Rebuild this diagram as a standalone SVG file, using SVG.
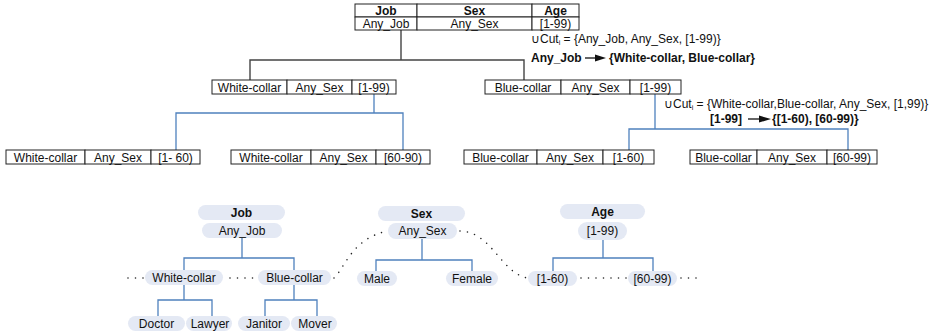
<svg xmlns="http://www.w3.org/2000/svg" width="935" height="334" viewBox="0 0 935 334">
<style>
text{font-family:"Liberation Sans",Arial,sans-serif;font-size:12px;fill:#111}
.b{font-weight:bold}
.m{text-anchor:middle}
.cell{fill:#fff;stroke:#222;stroke-width:1}
.blk{stroke:#444;stroke-width:1.4;fill:none}
.blu{stroke:#4f81bd;stroke-width:1.3;fill:none}
.dot{stroke:#222;stroke-width:1.6;stroke-linecap:round;stroke-dasharray:0 7.5;fill:none}
.pill{fill:#e4e9f4}
.arr{stroke:#111;stroke-width:1.3;fill:none}
.ah{fill:#111}
</style>
<rect width="935" height="334" fill="#fff"/>

<g id="connectors">
  <path class="blk" d="M401,30 V60 M250,80 V60 H524 V80"/>
  <path class="blu" d="M374,94 V113 M176,150 V113 H403 V150"/>
  <path class="blu" d="M655,94 V129 M629,150 V129 H848 V150"/>
  <path class="blu" d="M242,238 V258 M184,270 V258 H294 V270"/>
  <path class="blu" d="M184,285 V300 M158,316 V300 H212 V316"/>
  <path class="blu" d="M294,285 V300 M265,316 V300 H317 V316"/>
  <path class="blu" d="M422,239 V260 M376,271 V260 H472 V271"/>
  <path class="blu" d="M603,240 V258 M553,271 V258 H653 V271"/>
  <path class="dot" d="M128,278 H145"/>
  <path class="dot" d="M230,278 H256"/>
  <path class="dot" d="M334,278 C345,268 352,238 388,231"/>
  <path class="dot" d="M460,231 C492,232 500,272 527,278"/>
  <path class="dot" d="M581,278 H627"/>
  <path class="dot" d="M681,278 H698"/>
</g>

<g id="root">
  <rect class="cell" x="355" y="4" width="62" height="13"/>
  <rect class="cell" x="417" y="4" width="115" height="13"/>
  <rect class="cell" x="532" y="4" width="47" height="13"/>
  <rect class="cell" x="355" y="17" width="62" height="13"/>
  <rect class="cell" x="417" y="17" width="115" height="13"/>
  <rect class="cell" x="532" y="17" width="47" height="13"/>
  <text class="b m" x="386" y="15">Job</text>
  <text class="b m" x="474.5" y="15">Sex</text>
  <text class="b m" x="555.5" y="15">Age</text>
  <text class="m" x="386" y="28">Any_Job</text>
  <text class="m" x="474.5" y="28">Any_Sex</text>
  <text class="m" x="555.5" y="28">[1-99)</text>
</g>

<g id="note1">
  <text x="531" y="43">∪Cut<tspan font-size="7" dy="1.5">i</tspan><tspan dy="-1.5"> = {Any_Job, Any_Sex, [1-99)}</tspan></text>
  <text class="b" x="531" y="62">Any_Job</text>
  <path class="arr" d="M585,58 H597"/>
  <polygon class="ah" points="595,54.5 606,58 595,61.5"/>
  <text class="b" x="609" y="62">{White-collar, Blue-collar}</text>
</g>

<g id="wc">
  <rect class="cell" x="212" y="80" width="75" height="14"/>
  <rect class="cell" x="287" y="80" width="65" height="14"/>
  <rect class="cell" x="352" y="80" width="44" height="14"/>
  <text class="m" x="249.5" y="91.5">White-collar</text>
  <text class="m" x="319.5" y="91.5">Any_Sex</text>
  <text class="m" x="374" y="91.5">[1-99)</text>
</g>

<g id="bc">
  <rect class="cell" x="485" y="80" width="76" height="14"/>
  <rect class="cell" x="561" y="80" width="69" height="14"/>
  <rect class="cell" x="630" y="80" width="51" height="14"/>
  <text class="m" x="523" y="91.5">Blue-collar</text>
  <text class="m" x="595.5" y="91.5">Any_Sex</text>
  <text class="m" x="655.5" y="91.5">[1-99)</text>
</g>

<g id="note2">
  <text x="664" y="108">∪Cut<tspan font-size="7" dy="1.5">i</tspan><tspan dy="-1.5"> = {White-collar,Blue-collar, Any_Sex, [1,99)}</tspan></text>
  <text class="b" x="710" y="123">[1-99]</text>
  <path class="arr" d="M748,119 H761"/>
  <polygon class="ah" points="759,115.5 771,119 759,122.5"/>
  <text class="b" x="772" y="123">{[1-60), [60-99)}</text>
</g>

<g id="wc1">
  <rect class="cell" x="6" y="150" width="79" height="14"/>
  <rect class="cell" x="85" y="150" width="66" height="14"/>
  <rect class="cell" x="151" y="150" width="49" height="14"/>
  <text class="m" x="45.5" y="161.5">White-collar</text>
  <text class="m" x="118" y="161.5">Any_Sex</text>
  <text class="m" x="175.5" y="161.5">[1- 60)</text>
</g>

<g id="wc2">
  <rect class="cell" x="231" y="150" width="80" height="14"/>
  <rect class="cell" x="311" y="150" width="65" height="14"/>
  <rect class="cell" x="376" y="150" width="54" height="14"/>
  <text class="m" x="271" y="161.5">White-collar</text>
  <text class="m" x="343.5" y="161.5">Any_Sex</text>
  <text class="m" x="403" y="161.5">[60-90)</text>
</g>

<g id="bc1">
  <rect class="cell" x="464" y="150" width="73" height="14"/>
  <rect class="cell" x="537" y="150" width="66" height="14"/>
  <rect class="cell" x="603" y="150" width="51" height="14"/>
  <text class="m" x="500.5" y="161.5">Blue-collar</text>
  <text class="m" x="570" y="161.5">Any_Sex</text>
  <text class="m" x="628.5" y="161.5">[1-60)</text>
</g>

<g id="bc2">
  <rect class="cell" x="690" y="150" width="67" height="14"/>
  <rect class="cell" x="757" y="150" width="70" height="14"/>
  <rect class="cell" x="827" y="150" width="50" height="14"/>
  <text class="m" x="723.5" y="161.5">Blue-collar</text>
  <text class="m" x="792" y="161.5">Any_Sex</text>
  <text class="m" x="852" y="161.5">[60-99)</text>
</g>

<g id="h-job-title"><rect class="pill" x="198" y="205" width="87" height="15" rx="7.5"/><text class="b m" x="241.5" y="216.5">Job</text></g>
<g id="h-anyjob"><rect class="pill" x="202" y="223" width="80" height="15" rx="7.5"/><text class="m" x="242" y="234.5">Any_Job</text></g>
<g id="h-white"><rect class="pill" x="145" y="270" width="78" height="15" rx="7.5"/><text class="m" x="184" y="281.5">White-collar</text></g>
<g id="h-blue"><rect class="pill" x="258" y="270" width="73" height="15" rx="7.5"/><text class="m" x="294.5" y="281.5">Blue-collar</text></g>
<g id="h-doctor"><rect class="pill" x="128" y="316" width="57" height="15" rx="7.5"/><text class="m" x="156.5" y="327.5">Doctor</text></g>
<g id="h-lawyer"><rect class="pill" x="186" y="316" width="46" height="15" rx="7.5"/><text class="m" x="210" y="327.5">Lawyer</text></g>
<g id="h-janitor"><rect class="pill" x="238" y="316" width="52" height="15" rx="7.5"/><text class="m" x="264" y="327.5">Janitor</text></g>
<g id="h-mover"><rect class="pill" x="291" y="316" width="46" height="15" rx="7.5"/><text class="m" x="315" y="327.5">Mover</text></g>

<g id="h-sex-title"><rect class="pill" x="378" y="206" width="87" height="15" rx="7.5"/><text class="b m" x="421.5" y="217.5">Sex</text></g>
<g id="h-anysex"><rect class="pill" x="388" y="223" width="69" height="16" rx="8"/><text class="m" x="422.5" y="235">Any_Sex</text></g>
<g id="h-male"><rect class="pill" x="357" y="271" width="40" height="15" rx="7.5"/><text class="m" x="377" y="282.5">Male</text></g>
<g id="h-female"><rect class="pill" x="446" y="271" width="52" height="15" rx="7.5"/><text class="m" x="472" y="282.5">Female</text></g>

<g id="h-age-title"><rect class="pill" x="560" y="204" width="85" height="15" rx="7.5"/><text class="b m" x="602.5" y="215.5">Age</text></g>
<g id="h-age-all"><rect class="pill" x="578" y="222" width="49" height="18" rx="9"/><text class="m" x="602.5" y="235">[1-99)</text></g>
<g id="h-age-1"><rect class="pill" x="528" y="271" width="49" height="15" rx="7.5"/><text class="m" x="552.5" y="282.5">[1-60)</text></g>
<g id="h-age-2"><rect class="pill" x="628" y="271" width="49" height="15" rx="7.5"/><text class="m" x="652.5" y="282.5">[60-99)</text></g>
</svg>
